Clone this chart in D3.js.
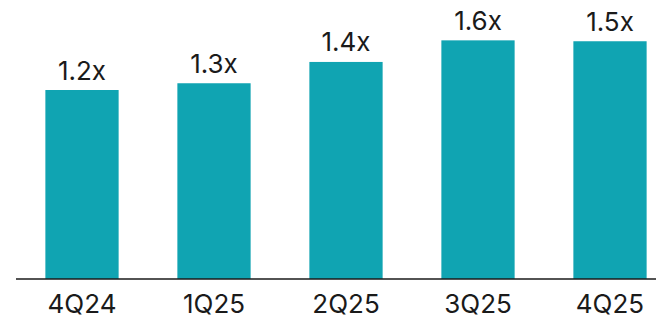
<!DOCTYPE html>
<html>
<head>
<meta charset="utf-8">
<script src="https://cdn.jsdelivr.net/npm/d3@7"></script>
<style>
    body { margin:0; background:#fff; }
    text { font-family: Inter, "Noto Sans", sans-serif; fill:#1a1a1a; }
</style>
</head>
<body>
<div id="chartCont"></div>
<script>
// chart data
var quarters = ['4Q24','1Q25','2Q25','3Q25','4Q25'];
var multiples = [1.26, 1.305, 1.447, 1.591, 1.585];
var valueLabels = ['1.2x','1.3x','1.4x','1.6x','1.5x'];

var W = 656, H = 321;
var baseY = 279;
var barColor = '#10a4b2';

var svg = d3.select('#chartCont')
    .append('svg')
    .attr('width', W)
    .attr('height', H);

var x = d3.scaleBand()
    .domain(quarters)
    .range([16, 676])
    .paddingInner(0.445)
    .paddingOuter(0.2225);

var y = d3.scaleLinear()
    .domain([0, 1.6])
    .range([baseY, baseY - 240]);

svg.append('g').selectAll('rect')
    .data(quarters)
    .enter()
    .append('rect')
    .attr('x', function(d) { return x(d); })
    .attr('width', x.bandwidth())
    .attr('y', function(d, i) { return y(multiples[i]); })
    .attr('height', function(d, i) { return baseY - y(multiples[i]); })
    .attr('fill', barColor);

svg.append('g').selectAll('text')
    .data(quarters)
    .enter()
    .append('text')
    .attr('x', function(d) { return x(d) + x.bandwidth() / 2; })
    .attr('y', function(d, i) { return y(multiples[i]) - 10.5; })
    .attr('text-anchor', 'middle')
    .style('font-size', '26px')
    .text(function(d, i) { return valueLabels[i]; });

// x axis, domain line runs to the right edge
var xAxis = svg.append('g')
    .attr('transform', 'translate(0,' + baseY + ')')
    .call(d3.axisBottom(x).tickSize(0).tickPadding(0));
xAxis.select('.domain').remove();
xAxis.append('line')
    .attr('x1', 16).attr('x2', W)
    .attr('y1', 0).attr('y2', 0)
    .attr('stroke', '#1a1a1a')
    .attr('stroke-width', 1.4);
xAxis.selectAll('.tick text')
    .attr('y', 33.5)
    .attr('dy', null)
    .style('font-size', '26px')
    .style('font-family', 'Inter, "Noto Sans", sans-serif')
    .attr('fill', '#1a1a1a');
</script>
</body>
</html>
